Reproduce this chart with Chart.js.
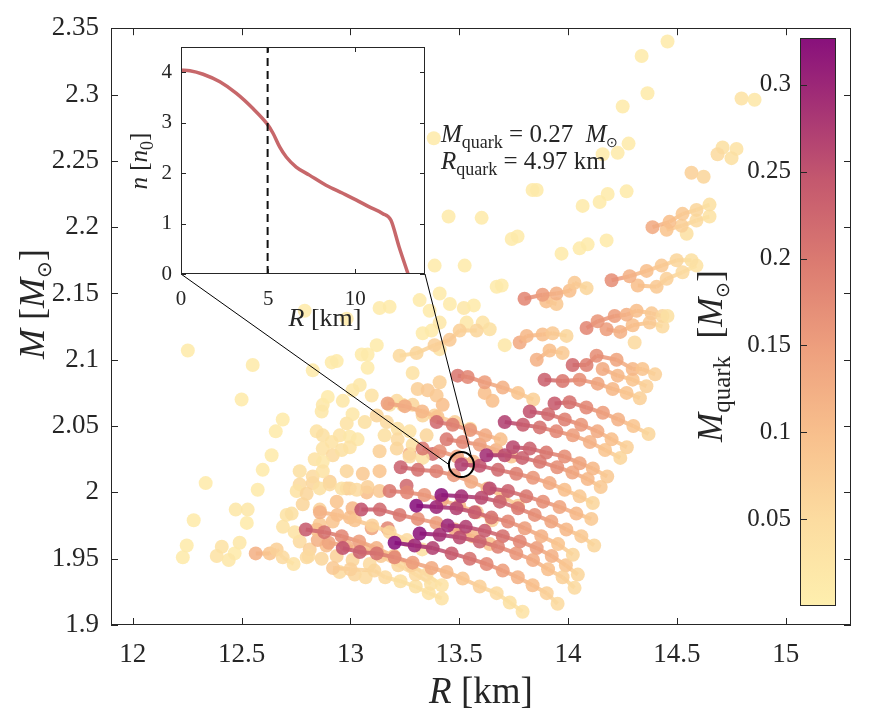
<!DOCTYPE html>
<html>
<head>
<meta charset="utf-8">
<script src="https://cdn.jsdelivr.net/npm/chart.js@4.4.1/dist/chart.umd.min.js"></script>
<style>
  html, body { margin: 0; padding: 0; background: #fff; }
  #wrap { position: relative; width: 878px; height: 719px; }
  canvas { position: absolute; }
</style>
</head>
<body>
<div id="wrap">
  <canvas id="main" width="878" height="719"></canvas>
  <canvas id="inset" width="330" height="320"></canvas>
  <canvas id="cbar" width="120" height="620"></canvas>
</div>
<script>
const SERIF = '"Liberation Serif", "Times New Roman", serif';
const INK = '#262626';

// axis ticks
const xTicks = [12, 12.5, 13, 13.5, 14, 14.5, 15];
const yTicks = [1.9, 1.95, 2, 2.05, 2.1, 2.15, 2.2, 2.25, 2.3, 2.35];
const insetXTicks = [0, 5, 10];
const insetYTicks = [0, 1, 2, 3, 4];
const cbarTicks = [0.05, 0.1, 0.15, 0.2, 0.25, 0.3];

// colour scale for M_quark
const qMin = 0, qMax = 0.327;
const cmapStops = [[0, 254, 239, 174], [0.15, 252, 220, 160], [0.3, 248, 192, 141], [0.45, 238, 160, 126],
                   [0.6, 220, 124, 113], [0.75, 196, 88, 110], [0.9, 160, 44, 118], [1, 136, 16, 124]];

// highlighted star (circle) and its quark core
const highlightR = 13.51, highlightM = 2.021;
const quarkMass = 0.27, quarkRadius = 4.97;

// inset density profile n(R)
const insetR = [0, 0.51, 1.27, 2.23, 3.18, 4.13, 4.93, 5.28, 5.66, 6.04, 6.61, 7.37, 8.32, 9.28, 10.04, 10.8, 11.56, 12.04, 12.51, 13.03];
const insetN = [4.04, 4.03, 3.96, 3.81, 3.58, 3.28, 2.98, 2.79, 2.52, 2.32, 2.12, 1.96, 1.76, 1.6, 1.47, 1.33, 1.2, 1.07, 0.54, 0];

// connected sequences: [R, M, M_quark]
const chainE = [[13.203,1.962,.33],[13.295,1.960,.30],[13.378,1.958,.27],[13.465,1.954,.24],[13.548,1.950,.21],[13.626,1.946,.18],[13.700,1.941,.15],[13.769,1.936,.12],[13.837,1.930,.10],[13.902,1.924,.07],[13.952,1.916,.05]];
const chainF = [[13.318,1.969,.32],[13.410,1.968,.29],[13.502,1.966,.26],[13.594,1.963,.23],[13.678,1.959,.19],[13.762,1.954,.16],[13.839,1.949,.13],[13.908,1.942,.10],[13.975,1.936,.07],[14.030,1.928,.05]];
const chainP = [[13.447,1.975,.30],[13.530,1.974,.27],[13.617,1.971,.24],[13.700,1.967,.21],[13.778,1.963,.18],[13.856,1.958,.15],[13.925,1.952,.12],[13.990,1.945,.09],[14.045,1.938,.06]];
const chainC = [[13.303,1.990,.33],[13.395,1.989,.30],[13.487,1.988,.27],[13.571,1.985,.24],[13.648,1.981,.21],[13.724,1.978,.18],[13.801,1.973,.15],[13.877,1.967,.12],[13.954,1.961,.09],[14.022,1.953,.06]];
const chainD = [[13.418,1.998,.32],[13.510,1.997,.29],[13.602,1.996,.26],[13.686,1.993,.23],[13.770,1.988,.20],[13.847,1.983,.17],[13.923,1.978,.14],[13.992,1.972,.11],[14.061,1.967,.08],[14.120,1.960,.06]];
const chainA = [[13.510,2.021,.27],[13.594,2.020,.25],[13.678,2.017,.22],[13.762,2.014,.19],[13.839,2.011,.16],[13.915,2.007,.13],[13.984,2.002,.10],[14.053,1.997,.08],[14.114,1.992,.06]];
const chainB = [[13.625,2.028,.29],[13.709,2.028,.26],[13.790,2.026,.23],[13.870,2.023,.20],[13.950,2.019,.17],[14.020,2.015,.14],[14.090,2.010,.11],[14.150,2.004,.08]];
const chainB2 = [[13.747,2.034,.26],[13.824,2.033,.23],[13.900,2.030,.20],[13.984,2.027,.17],[14.053,2.022,.14],[14.114,2.018,.11],[14.180,2.012,.08]];
const chainH = [[13.640,2.003,.26],[13.724,2.001,.23],[13.808,1.997,.20],[13.885,1.993,.17],[13.961,1.989,.14],[14.038,1.984,.11],[14.107,1.980,.08]];
const chainI = [[13.050,1.987,.25],[13.135,1.987,.22],[13.226,1.983,.20],[13.310,1.980,.17],[13.395,1.977,.15],[13.480,1.972,.13],[13.560,1.967,.11],[13.640,1.961,.09]];
const chainJ = [[12.965,1.958,.25],[13.043,1.955,.23],[13.121,1.954,.21],[13.203,1.951,.18],[13.286,1.947,.15],[13.373,1.943,.13],[13.442,1.940,.11],[13.516,1.935,.09],[13.594,1.929,.07],[13.672,1.924,.05],[13.732,1.917,.04],[13.791,1.910,.03]];
const chainK = [[12.795,1.972,.24],[12.880,1.970,.21],[12.960,1.967,.18],[13.040,1.963,.15],[13.120,1.958,.12],[13.200,1.952,.09],[13.280,1.945,.07],[13.350,1.938,.05],[13.420,1.930,.03]];
const chainL = [[13.231,2.019,.23],[13.310,2.017,.21],[13.395,2.016,.19],[13.475,2.013,.16],[13.555,2.008,.13],[13.630,2.003,.11],[13.700,1.997,.09],[13.770,1.990,.07]];
const chainM = [[13.180,2.001,.20],[13.260,2.000,.18],[13.340,1.998,.16],[13.420,1.994,.13],[13.500,1.990,.11],[13.580,1.985,.09],[13.650,1.979,.07]];
const chainR1 = [[13.709,2.053,.27],[13.793,2.051,.24],[13.870,2.049,.21],[13.946,2.046,.18],[14.022,2.043,.15],[14.100,2.038,.12],[14.170,2.032,.09],[14.240,2.026,.06]];
const chainR2 = [[13.824,2.061,.25],[13.908,2.059,.22],[13.985,2.055,.19],[14.060,2.051,.16],[14.135,2.046,.13],[14.200,2.040,.10],[14.270,2.034,.07]];
const chainR3 = [[13.938,2.067,.24],[14.007,2.068,.21],[14.084,2.064,.18],[14.160,2.060,.15],[14.230,2.055,.12],[14.300,2.050,.09],[14.370,2.044,.06]];
const chainR4 = [[13.892,2.085,.23],[13.975,2.084,.20],[14.053,2.085,.17],[14.136,2.082,.14],[14.205,2.078,.11],[14.269,2.075,.09],[14.330,2.071,.07]];
const chainR5 = [[14.021,2.096,.22],[14.085,2.096,.19],[14.131,2.103,.17],[14.223,2.100,.14],[14.297,2.093,.11],[14.342,2.093,.09],[14.400,2.089,.07]];
const chainR5b = [[14.159,2.093,.13],[14.228,2.088,.11],[14.297,2.085,.09],[14.360,2.080,.07]];
const chainR6 = [[13.493,2.088,.20],[13.539,2.087,.18],[13.617,2.083,.15],[13.700,2.079,.12],[13.770,2.075,.09],[13.840,2.070,.07]];
const chainR7 = [[13.442,2.040,.20],[13.516,2.038,.18],[13.594,2.036,.15],[13.670,2.032,.12],[13.740,2.027,.09]];
const chainR8 = [[13.396,2.053,.22],[13.470,2.051,.19],[13.550,2.047,.16],[13.620,2.043,.13],[13.690,2.040,.10]];
const chainR9 = [[13.332,2.033,.20],[13.410,2.031,.17],[13.490,2.027,.14],[13.565,2.023,.11]];
const chainR10 = [[13.171,2.067,.15],[13.250,2.065,.13],[13.330,2.061,.11],[13.400,2.057,.09],[13.480,2.053,.07],[13.550,2.048,.05]];
const chainU1a = [[14.388,2.200,.13],[14.466,2.204,.10],[14.526,2.210,.08],[14.590,2.213,.06],[14.650,2.217,.04]];
const chainU1b = [[14.453,2.198,.09],[14.522,2.201,.07],[14.590,2.205,.05],[14.650,2.208,.03]];
const chainU2a = [[14.200,2.160,.17],[14.283,2.163,.12],[14.361,2.167,.10],[14.430,2.171,.08],[14.499,2.175,.06],[14.567,2.175,.04]];
const chainU2b = [[14.320,2.156,.10],[14.407,2.155,.08],[14.453,2.161,.07],[14.526,2.166,.05],[14.590,2.171,.03]];
const chainU3 = [[13.800,2.146,.18],[13.883,2.149,.15],[13.947,2.150,.12],[14.007,2.152,.10],[14.030,2.158,.08],[14.085,2.154,.06]];
const chainU3b = [[13.900,2.144,.10],[13.947,2.142,.08]];
const chainU4a = [[14.085,2.124,.18],[14.136,2.129,.16],[14.214,2.133,.15],[14.269,2.134,.12],[14.315,2.137,.10],[14.384,2.135,.08],[14.434,2.133,.06],[14.457,2.133,.04]];
const chainU4b = [[14.177,2.123,.15],[14.240,2.121,.12],[14.297,2.126,.10],[14.375,2.128,.08],[14.434,2.125,.05]];
const chainU6 = [[13.778,2.113,.13],[13.810,2.118,.11],[13.883,2.119,.10],[13.929,2.120,.08],[13.993,2.118,.06]];
const chainU7 = [[13.226,2.103,.05],[13.304,2.105,.06],[13.387,2.111,.07],[13.456,2.115,.08],[13.502,2.122,.07],[13.580,2.122,.06]];
const chainU9 = [[13.856,2.100,.12],[13.915,2.107,.10],[13.975,2.105,.08]];
const chainLL1 = [[12.565,1.954,.12],[12.629,1.954,.09],[12.661,1.957,.07],[12.689,1.951,.05],[12.739,1.946,.03]];
const chainLL2 = [[12.860,1.985,.12],[12.940,1.983,.10],[13.020,1.979,.09],[13.100,1.975,.07],[13.180,1.970,.06],[13.260,1.964,.05],[13.330,1.957,.04]];
const chainLL3 = [[12.900,1.962,.14],[12.980,1.960,.12],[13.060,1.957,.10],[13.140,1.952,.08],[13.220,1.945,.06],[13.300,1.938,.05],[13.370,1.931,.04]];
const chainLL4 = [[12.920,1.943,.08],[13.000,1.942,.07],[13.110,1.941,.06],[13.160,1.936,.05],[13.230,1.933,.04],[13.300,1.929,.04],[13.360,1.924,.03],[13.420,1.920,.03]];

// unconnected points: [R, M, M_quark]
const looseTop = [[14.457,2.340,.01],[14.338,2.329,.01],[14.365,2.301,.01],[14.251,2.291,.01],[14.278,2.263,.01],[14.159,2.255,.01],[14.228,2.256,.01],[14.797,2.297,.03],[14.857,2.296,.02],[13.383,2.267,.01],[13.837,2.228,.01],[13.856,2.228,.01],[14.269,2.227,.01],[14.182,2.225,.01],[14.145,2.219,.01],[14.067,2.216,.01],[13.451,2.208,.01],[13.603,2.207,.01],[13.741,2.191,.01],[13.768,2.193,.01],[13.970,2.180,.01],[14.053,2.184,.01],[14.090,2.187,.01],[14.177,2.190,.01],[13.387,2.171,.01],[13.525,2.171,.01],[13.672,2.155,.01],[13.695,2.156,.01],[14.710,2.260,.04],[14.774,2.259,.03],[14.687,2.255,.05],[14.751,2.252,.04],[14.567,2.241,.07],[14.623,2.238,.06],[14.545,2.195,.04],[14.306,2.113,.05]];
const looseLeft = [[12.253,2.107,.01],[12.551,2.096,.01],[12.500,2.070,.01],[12.689,2.055,.01],[12.657,2.046,.01],[12.638,2.028,.01],[12.597,2.017,.01],[12.574,2.002,.01],[12.335,2.007,.01],[12.790,2.137,.01],[12.280,1.979,.01],[12.230,1.951,.01],[12.248,1.960,.01],[12.473,1.987,.02],[12.528,1.987,.02],[12.524,1.977,.01],[12.491,1.962,.02],[12.468,1.954,.01],[12.409,1.959,.03],[12.386,1.952,.03],[12.441,1.949,.02],[12.827,2.092,.01],[12.914,2.098,.01],[12.937,2.099,.01],[12.983,2.131,.01],[13.052,2.104,.01],[13.079,2.104,.01],[13.121,2.111,.01],[13.079,2.094,.01],[13.134,2.139,.01],[13.180,2.140,.01],[13.318,2.145,.01],[13.364,2.137,.01],[13.410,2.150,.01],[13.373,2.122,.01],[13.332,2.120,.01],[13.410,2.128,.02],[13.457,2.142,.01],[13.521,2.139,.02],[13.567,2.141,.01],[13.608,2.128,.03],[13.640,2.123,.04],[13.534,2.128,.02],[13.709,2.111,.02]];
const loosePeach = [[12.845,2.046,.03],[12.873,2.043,.04],[12.914,2.038,.03],[12.951,2.043,.03],[12.997,2.042,.02],[13.033,2.040,.02],[12.873,2.033,.03],[12.919,2.028,.05],[12.960,2.032,.04],[12.997,2.034,.03],[12.836,2.025,.03],[12.873,2.023,.02],[13.066,2.053,.04],[13.121,2.058,.06],[13.167,2.053,.05],[13.217,2.048,.04],[13.272,2.046,.03],[13.157,2.043,.04],[13.217,2.040,.05],[13.286,2.036,.04],[13.134,2.031,.07],[13.213,2.033,.06],[13.272,2.027,.05],[13.332,2.026,.04],[12.767,2.016,.04],[12.827,2.012,.05],[12.873,2.016,.03],[12.753,2.001,.03],[12.799,1.999,.06],[12.859,2.003,.04],[12.905,2.006,.05],[12.960,2.003,.04],[12.997,2.003,.06],[13.029,2.002,.05],[13.079,2.004,.07],[13.134,2.001,.08],[12.873,2.066,.02],[12.896,2.072,.01],[12.965,2.069,.02],[12.868,2.061,.02],[12.983,2.052,.03],[13.010,2.059,.02],[13.043,2.081,.02],[13.010,2.077,.02],[13.098,2.073,.03],[13.180,2.066,.04],[13.213,2.069,.05],[13.240,2.066,.04],[13.286,2.066,.06],[13.309,2.078,.07],[13.355,2.077,.08],[13.410,2.083,.07],[13.396,2.073,.08],[13.424,2.066,.10],[13.332,2.058,.06],[13.387,2.058,.07],[13.410,2.108,.03],[13.286,2.090,.03],[13.617,2.075,.10],[13.653,2.069,.10]];
const looseLow = [[12.799,1.951,.05],[12.868,1.950,.06],[12.937,1.952,.07],[13.010,1.949,.06],[13.089,1.946,.05],[12.859,1.976,.08],[12.919,1.978,.09],[12.997,1.981,.10],[13.098,1.973,.14],[13.171,1.973,.18],[12.767,2.006,.05],[12.827,2.007,.06],[12.905,2.008,.07],[12.983,2.003,.08],[13.075,2.000,.10],[13.258,2.005,.22],[13.134,2.016,.09],[13.057,2.014,.08],[12.983,2.016,.06],[13.350,2.043,.06],[13.378,2.029,.22],[13.272,2.029,.12],[12.781,1.991,.06],[12.859,1.987,.07],[12.937,1.993,.09],[13.010,1.988,.11],[12.767,1.963,.05],[12.813,1.957,.07],[12.890,1.960,.10],[12.950,1.940,.05],[13.020,1.938,.06],[13.070,1.936,.05],[12.690,1.974,.03],[12.707,1.983,.03],[12.730,1.984,.04],[12.744,1.970,.03],[12.808,1.952,.05],[12.850,1.964,.12],[12.845,1.972,.10]];

const chains = [chainE, chainF, chainP, chainC, chainD, chainA, chainB, chainB2, chainH, chainI, chainJ, chainK, chainL, chainM,
  chainR1, chainR2, chainR3, chainR4, chainR5, chainR5b, chainR6, chainR7, chainR8, chainR9, chainR10,
  chainU1a, chainU1b, chainU2a, chainU2b, chainU3, chainU3b, chainU4a, chainU4b, chainU6, chainU7, chainU9,
  chainLL1, chainLL2, chainLL3, chainLL4];
const looseGroups = [looseTop, looseLeft, loosePeach, looseLow];

// layout
const INSET_LEFT = 110, INSET_TOP = 25;
const CBAR_LEFT = 740, CBAR_TOP = 10;
const ringR = 12.5;
const ALPHA = 0.88;

function cmap(q, a) {
  const t = Math.max(0, Math.min(1, (q - qMin) / (qMax - qMin)));
  for (let i = 1; i < cmapStops.length; i++) {
    if (t <= cmapStops[i][0]) {
      const s0 = cmapStops[i - 1], s1 = cmapStops[i];
      const f = (t - s0[0]) / (s1[0] - s0[0]);
      const c = [1, 2, 3].map(k => Math.round(s0[k] + f * (s1[k] - s0[k])));
      return `rgba(${c[0]},${c[1]},${c[2]},${a === undefined ? 1 : a})`;
    }
  }
}

// mixed italic / roman / subscript text; style: i italic, r roman, s subscript, o sun symbol subscript
function richText(ctx, parts, x, y, size, align, angle) {
  ctx.save();
  ctx.translate(x, y);
  ctx.rotate(angle || 0);
  const scale = p => p[1] === 'o' ? 0.55 : (p[1][0] === 's' ? 0.7 : 1);
  const fontOf = p => (p[1].indexOf('i') >= 0 ? 'italic ' : '') + Math.round(size * scale(p)) + 'px ' + SERIF;
  const drop = p => p[1] === 'o' ? size * 0.2 : (p[1][0] === 's' ? size * 0.22 : 0);
  let w = 0;
  parts.forEach(p => { ctx.font = fontOf(p); w += ctx.measureText(p[0]).width; });
  let cx = align === 'center' ? -w / 2 : 0;
  ctx.fillStyle = INK;
  ctx.textAlign = 'left';
  ctx.textBaseline = 'alphabetic';
  parts.forEach(p => {
    ctx.font = fontOf(p);
    ctx.fillText(p[0], cx, drop(p));
    cx += ctx.measureText(p[0]).width;
  });
  ctx.restore();
}

// box with inward ticks, MATLAB style
const frame = {
  id: 'frame',
  afterDatasetsDraw(chart, args, opts) {
    const {ctx, chartArea: a, scales} = chart;
    const L = opts.len || 7;
    ctx.save();
    ctx.strokeStyle = INK;
    ctx.lineWidth = 1;
    const seg = (x1, y1, x2, y2) => { ctx.beginPath(); ctx.moveTo(x1, y1); ctx.lineTo(x2, y2); ctx.stroke(); };
    if (scales.x && scales.x.options.display !== false) {
      scales.x.ticks.forEach(t => {
        const p = Math.round(scales.x.getPixelForValue(t.value)) + 0.5;
        seg(p, a.bottom, p, a.bottom - L);
        if (opts.mirror) seg(p, a.top, p, a.top + L);
      });
    }
    scales.y.ticks.forEach(t => {
      const p = Math.round(scales.y.getPixelForValue(t.value)) + 0.5;
      seg(a.left, p, a.left + L, p);
      if (opts.mirror) seg(a.right, p, a.right - L, p);
    });
    ctx.strokeRect(Math.round(a.left) + 0.5, Math.round(a.top) + 0.5, Math.round(a.width) - 1, Math.round(a.height) - 1);
    ctx.restore();
  }
};

const paper = {
  id: 'paper',
  beforeDatasetsDraw(chart) {
    const {ctx, chartArea: a} = chart;
    ctx.save();
    ctx.fillStyle = '#fff';
    ctx.fillRect(a.left, a.top, a.width, a.height);
    ctx.restore();
  }
};

const fmt = v => String(+Number(v).toFixed(2));
const tickFont = size => ({family: SERIF, size: size});

function linAxis(min, max, ticks, size, pad, fit) {
  return {
    type: 'linear', min: min, max: max,
    grid: {display: false, drawTicks: false},
    border: {display: false},
    afterBuildTicks: s => { s.ticks = ticks.map(v => ({value: v})); },
    afterFit: fit,
    ticks: {font: tickFont(size), color: INK, padding: pad, callback: fmt, autoSkip: false, maxRotation: 0}
  };
}

// ---- inset ----
const insetCanvas = document.getElementById('inset');
insetCanvas.style.left = INSET_LEFT + 'px';
insetCanvas.style.top = INSET_TOP + 'px';
insetCanvas.style.zIndex = 2;

const insetLabels = {
  id: 'insetLabels',
  afterDraw(chart) {
    const ctx = chart.ctx;
    richText(ctx, [['R', 'i'], [' [km]', 'r']], 325 - INSET_LEFT, 326 - INSET_TOP, 26, 'center');
    richText(ctx, [['n', 'i'], [' [', 'r'], ['n', 'i'], ['0', 's'], [']', 'r']], 147 - INSET_LEFT, 161 - INSET_TOP, 25, 'center', -Math.PI / 2);
  }
};

const inset = new Chart(insetCanvas, {
  type: 'scatter',
  data: {
    datasets: [
      {data: [{x: quarkRadius, y: 0}, {x: quarkRadius, y: 4.5}], showLine: true, borderColor: '#111', borderWidth: 2,
       borderDash: [8, 5], pointRadius: 0},
      {data: insetR.map((r, i) => ({x: r, y: insetN[i]})), showLine: true, borderColor: '#c7676a', borderWidth: 3.5,
       pointRadius: 0, cubicInterpolationMode: 'monotone'}
    ]
  },
  options: {
    responsive: false, animation: false, events: [],
    layout: {padding: {top: 22, right: 15, left: 0, bottom: 0}},
    plugins: {legend: {display: false}, tooltip: {enabled: false}, frame: {len: 5, mirror: true}},
    scales: {
      x: linAxis(0, 14, insetXTicks, 21, 13, s => { s.height = 71; }),
      y: linAxis(0, 4.5, insetYTicks, 21, 9, s => { s.width = 71; })
    }
  },
  plugins: [paper, frame, insetLabels]
});

// ---- colour bar ----
const cbarCanvas = document.getElementById('cbar');
cbarCanvas.style.left = CBAR_LEFT + 'px';
cbarCanvas.style.top = CBAR_TOP + 'px';
cbarCanvas.style.zIndex = 2;

const cbar = new Chart(cbarCanvas, {
  type: 'bar',
  data: {
    labels: [''],
    datasets: [{
      data: [[qMin, qMax]],
      borderWidth: 0,
      barPercentage: 1,
      categoryPercentage: 1,
      backgroundColor: c => {
        const a = c.chart.chartArea;
        if (!a) return cmap(qMax);
        const g = c.chart.ctx.createLinearGradient(0, a.bottom, 0, a.top);
        cmapStops.forEach(s => g.addColorStop(s[0], `rgb(${s[1]},${s[2]},${s[3]})`));
        return g;
      }
    }]
  },
  options: {
    responsive: false, animation: false, events: [],
    layout: {padding: {top: 28, right: 24, left: 0, bottom: 21}},
    plugins: {legend: {display: false}, tooltip: {enabled: false}, frame: {len: 7, mirror: false}},
    scales: {
      x: {display: false},
      y: linAxis(qMin, qMax, cbarTicks, 25, 9, s => { s.width = 60; })
    }
  },
  plugins: [frame]
});

// ---- main scatter ----
const toPts = arr => arr.map(p => ({x: p[0], y: p[1], q: p[2]}));
const maxQ = arr => Math.max.apply(null, arr.map(p => p[2]));

const chainSets = chains.slice().sort((a, b) => maxQ(b) - maxQ(a)).map(ch => ({
  data: toPts(ch),
  showLine: true,
  borderWidth: 4,
  borderColor: cmap(maxQ(ch) * 0.7, ALPHA),
  segment: {
    borderColor: c => {
      const d = c.chart.data.datasets[c.datasetIndex].data;
      return cmap((d[c.p0DataIndex].q + d[c.p1DataIndex].q) / 2, ALPHA);
    }
  },
  pointRadius: 7,
  pointBorderWidth: 0,
  pointBackgroundColor: c => cmap(c.raw.q, ALPHA)
}));

const looseSets = looseGroups.map(g => ({
  data: toPts(g),
  showLine: false,
  pointRadius: 7,
  pointBorderWidth: 0,
  pointBackgroundColor: c => cmap(c.raw.q, ALPHA)
}));

const overlay = {
  id: 'overlay',
  afterDraw(chart) {
    const {ctx, scales: {x, y}} = chart;
    const cx = x.getPixelForValue(highlightR), cy = y.getPixelForValue(highlightM);
    const ia = inset.chartArea;
    ctx.save();
    ctx.strokeStyle = '#000';
    ctx.lineWidth = 1;
    ctx.beginPath();
    ctx.moveTo(INSET_LEFT + ia.left, INSET_TOP + ia.bottom);
    ctx.lineTo(cx - ringR, cy);
    ctx.moveTo(INSET_LEFT + ia.right, INSET_TOP + ia.bottom);
    ctx.lineTo(cx + ringR * Math.cos(-0.63), cy + ringR * Math.sin(-0.63));
    ctx.stroke();
    ctx.restore();

    richText(ctx, [['M', 'i'], ['quark', 's'], [' = ' + quarkMass.toFixed(2) + '  ', 'r'], ['M', 'i'], ['\u2299', 'o']], 441, 142, 25, 'left');
    richText(ctx, [['R', 'i'], ['quark', 's'], [' = ' + quarkRadius.toFixed(2) + ' km', 'r']], 441, 169, 25, 'left');

    const a = chart.chartArea;
    richText(ctx, [['R', 'i'], [' [km]', 'r']], (a.left + a.right) / 2, 703, 37, 'center');
    richText(ctx, [['M', 'i'], [' [', 'r'], ['M', 'i'], ['\u2299', 'o'], [']', 'r']], 44, 304, 36, 'center', -Math.PI / 2);
    richText(ctx, [['M', 'i'], ['quark', 's'], ['  [', 'r'], ['M', 'i'], ['\u2299', 'o'], [']', 'r']], 722, 356, 35, 'center', -Math.PI / 2);
  }
};

const main = new Chart(document.getElementById('main'), {
  type: 'scatter',
  data: {
    datasets: [
      {data: [{x: highlightR, y: highlightM}], showLine: false, pointRadius: ringR, pointBorderWidth: 2,
       pointBorderColor: '#000', pointBackgroundColor: 'rgba(0,0,0,0)'}
    ].concat(chainSets, looseSets)
  },
  options: {
    responsive: false, animation: false, events: [],
    layout: {padding: {top: 22, right: 27, left: 0, bottom: 0}},
    plugins: {legend: {display: false}, tooltip: {enabled: false}, frame: {len: 7, mirror: true}},
    scales: {
      x: linAxis(11.9, 15.3, xTicks, 27, 14, s => { s.height = 94; }),
      y: linAxis(1.9, 2.35, yTicks, 27, 12, s => { s.width = 111; })
    }
  },
  plugins: [frame, overlay]
});
</script>
</body>
</html>
